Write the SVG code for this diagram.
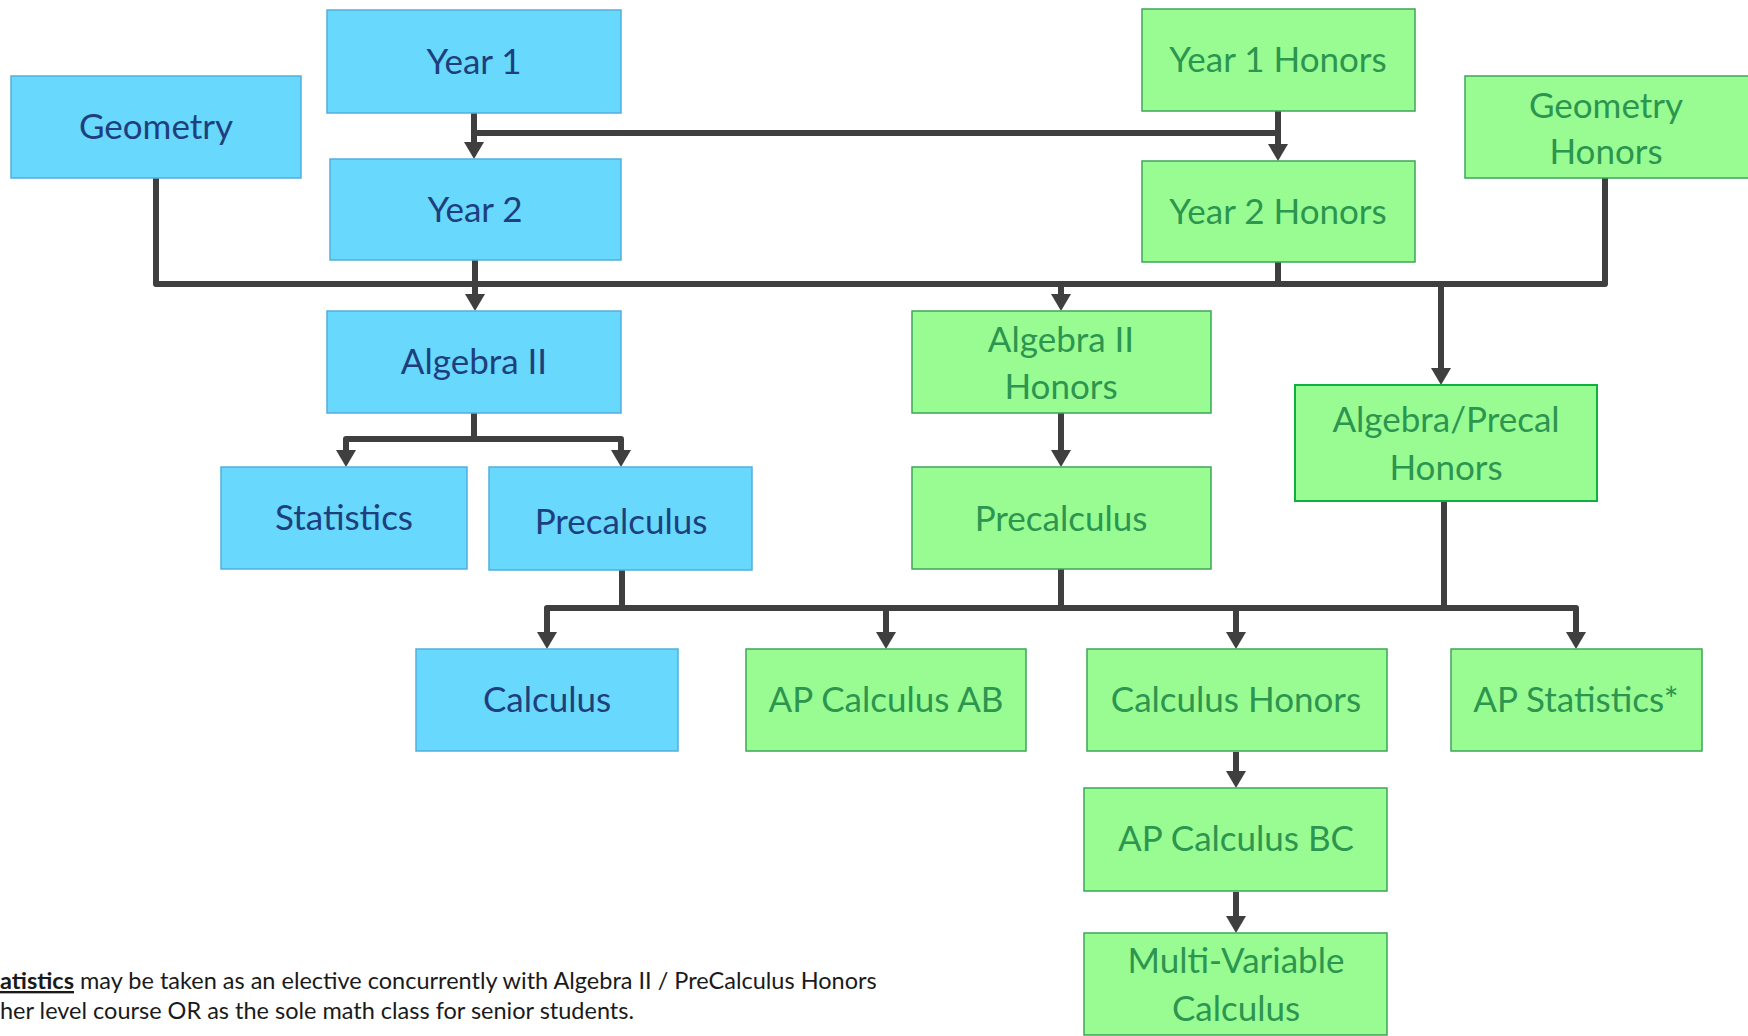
<svg xmlns="http://www.w3.org/2000/svg" width="1748" height="1036" viewBox="0 0 1748 1036">
<style>
.b rect{fill:#68D8FD;stroke:#52AEDC;stroke-width:1.5}
.g rect{fill:#99FC92;stroke:#3FA55A;stroke-width:1.5}
.b text{fill:#1F3F7C}
.g text{fill:#2C9550}
text{font-family:Lato,"Open Sans","Liberation Sans",sans-serif;font-size:35px;text-anchor:middle}
.c path{fill:none;stroke:#3F3F3F;stroke-width:6;stroke-linejoin:round}
.note{font-family:Lato,"Liberation Sans",sans-serif;font-size:23.5px;fill:#1A1A1A;text-anchor:start}
</style>
<defs>
<marker id="ah" markerUnits="userSpaceOnUse" markerWidth="22" markerHeight="22" viewBox="0 -11 22 22" refX="11" refY="0" orient="auto">
<path d="M0,-10 L17,0 L0,10 Z" fill="#3F3F3F"/>
</marker>
</defs>
<rect width="1748" height="1036" fill="#FFFFFF"/>
<g class="c" id="connectors">
<path d="M474,113 V153" marker-end="url(#ah)"/>
<path d="M474,133 H1278"/>
<path d="M1278,111 V155" marker-end="url(#ah)"/>
<path d="M156,178 V284 H1605 V178"/>
<path d="M475,260 V305" marker-end="url(#ah)"/>
<path d="M1278,262 V284"/>
<path d="M1061,284 V305" marker-end="url(#ah)"/>
<path d="M1441,284 V379" marker-end="url(#ah)"/>
<path d="M474,413 V439 H346 V461" marker-end="url(#ah)"/>
<path d="M474,439 H621 V461" marker-end="url(#ah)"/>
<path d="M1061,413 V461" marker-end="url(#ah)"/>
<path d="M622,570 V608 H547 V643" marker-end="url(#ah)"/>
<path d="M622,608 H1576 V643" marker-end="url(#ah)"/>
<path d="M886,608 V643" marker-end="url(#ah)"/>
<path d="M1236,608 V643" marker-end="url(#ah)"/>
<path d="M1061,569 V608"/>
<path d="M1444,501 V608"/>
<path d="M1236,752 V782" marker-end="url(#ah)"/>
<path d="M1236,892 V927" marker-end="url(#ah)"/>
</g>
<g id="geometry" class="b"><rect x="11" y="76" width="290" height="102"/><text x="156" y="139">Geometry</text></g>
<g id="year1" class="b"><rect x="327" y="10" width="294" height="103"/><text x="474" y="74">Year 1</text></g>
<g id="year2" class="b"><rect x="330" y="159" width="291" height="101"/><text x="475" y="222">Year 2</text></g>
<g id="algebra2" class="b"><rect x="327" y="311" width="294" height="102"/><text x="474" y="374">Algebra II</text></g>
<g id="statistics" class="b"><rect x="221" y="467" width="246" height="102"/><text x="344" y="530">Statistics</text></g>
<g id="precalculus" class="b"><rect x="489" y="467" width="263" height="103"/><text x="621" y="534">Precalculus</text></g>
<g id="calculus" class="b"><rect x="416" y="649" width="262" height="102"/><text x="547" y="712">Calculus</text></g>
<g id="year1honors" class="g"><rect x="1142" y="9" width="273" height="102"/><text x="1278" y="72">Year 1 Honors</text></g>
<g id="geometryhonors" class="g"><rect x="1465" y="76" width="290" height="102"/><text x="1606" y="118">Geometry</text><text x="1606" y="164">Honors</text></g>
<g id="year2honors" class="g"><rect x="1142" y="161" width="273" height="101"/><text x="1278" y="224">Year 2 Honors</text></g>
<g id="algebra2honors" class="g"><rect x="912" y="311" width="299" height="102"/><text x="1061" y="352">Algebra II</text><text x="1061" y="399">Honors</text></g>
<g id="precalculushonors" class="g"><rect x="912" y="467" width="299" height="102"/><text x="1061" y="531">Precalculus</text></g>
<g id="algprecalhonors" class="g"><rect x="1295" y="385" width="302" height="116" style="stroke:#10B040;stroke-width:2"/><text x="1446" y="432">Algebra/Precal</text><text x="1446" y="480">Honors</text></g>
<g id="apcalcab" class="g"><rect x="746" y="649" width="280" height="102"/><text x="886" y="712">AP Calculus AB</text></g>
<g id="calchonors" class="g"><rect x="1087" y="649" width="300" height="102"/><text x="1236" y="712">Calculus Honors</text></g>
<g id="apstats" class="g"><rect x="1451" y="649" width="251" height="102"/><text x="1576" y="712">AP Statistics*</text></g>
<g id="apcalcbc" class="g"><rect x="1084" y="788" width="303" height="103"/><text x="1236" y="851">AP Calculus BC</text></g>
<g id="multivariable" class="g"><rect x="1084" y="933" width="303" height="102"/><text x="1236" y="973">Multi-Variable</text><text x="1236" y="1021">Calculus</text></g>
<text class="note" x="0" y="989"><tspan font-weight="bold" text-decoration="underline">atistics</tspan> may be taken as an elective concurrently with Algebra II / PreCalculus Honors</text>
<text class="note" x="0" y="1019">her level course OR as the sole math class for senior students.</text>
</svg>
